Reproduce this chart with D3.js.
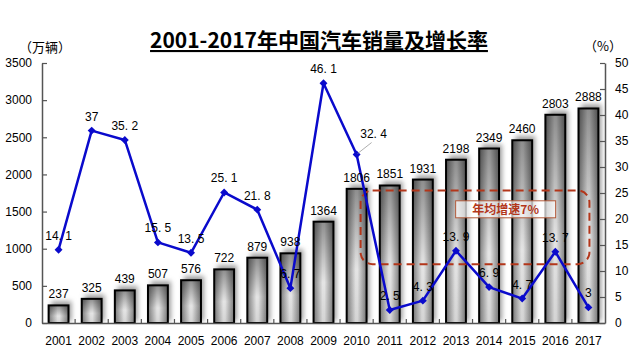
<!DOCTYPE html>
<html>
<head>
<meta charset="utf-8">
<script src="https://cdn.jsdelivr.net/npm/d3@7/dist/d3.min.js"></script>
<style>
  html, body { margin: 0; padding: 0; background: #fff; }
  svg { display: block; }
  text { font-family: "Liberation Sans", Arial, "Noto Sans CJK SC", sans-serif; }
  .cjk { font-family: "Noto Sans CJK SC", "Liberation Sans", sans-serif; }
</style>
</head>
<body>
<svg id="chart" width="640" height="348"></svg>
<script>
// Annual vehicle sales (10k units) and year-on-year growth (%)
const years = ["2001","2002","2003","2004","2005","2006","2007","2008","2009",
               "2010","2011","2012","2013","2014","2015","2016","2017"];
const sales = [237, 325, 439, 507, 576, 722, 879, 938, 1364,
               1806, 1851, 1931, 2198, 2349, 2460, 2803, 2888];
const growth = [14.1, 37, 35.2, 15.5, 13.5, 25.1, 21.8, 6.7, 46.1,
                32.4, 2.5, 4.3, 13.9, 6.9, 4.7, 13.7, 3];
const salesTicks = [0, 500, 1000, 1500, 2000, 2500, 3000, 3500];
const growthTicks = [0, 5, 10, 15, 20, 25, 30, 35, 40, 45, 50];
const titleText = "2001-2017年中国汽车销量及增长率";
const leftUnit = "（万辆）";
const rightUnit = "（%）";
const noteText = "年均增速7%";

const svg = d3.select("#chart");
const plot = { left: 42, right: 605, top: 63, bottom: 323 };

const x = d3.scaleBand().domain(years).range([plot.left, plot.right]).paddingInner(0.4).paddingOuter(0.2);
const yL = d3.scaleLinear().domain([0, 3500]).range([plot.bottom, plot.top]);
const yR = d3.scaleLinear().domain([0, 50]).range([plot.bottom, plot.top]);
const step = x.step();
const cx = d => x(d) + x.bandwidth() / 2;

// ---- definitions: bar shading and soft shadow
const defs = svg.append("defs");
const gh = defs.append("linearGradient").attr("id", "barH").attr("x1", 0).attr("x2", 1).attr("y1", 0).attr("y2", 0);
gh.append("stop").attr("offset", "0%").attr("stop-color", "#808080");
gh.append("stop").attr("offset", "45%").attr("stop-color", "#ebebeb");
gh.append("stop").attr("offset", "55%").attr("stop-color", "#ebebeb");
gh.append("stop").attr("offset", "100%").attr("stop-color", "#808080");
const gv = defs.append("linearGradient").attr("id", "barV").attr("x1", 0).attr("x2", 0).attr("y1", 0).attr("y2", 1);
gv.append("stop").attr("offset", "0%").attr("stop-color", "#000").attr("stop-opacity", 0.4);
gv.append("stop").attr("offset", "60%").attr("stop-color", "#000").attr("stop-opacity", 0.03);
gv.append("stop").attr("offset", "100%").attr("stop-color", "#000").attr("stop-opacity", 0.1);
const blur = defs.append("filter").attr("id", "soft").attr("x", "-50%").attr("y", "-50%").attr("width", "200%").attr("height", "200%");
blur.append("feGaussianBlur").attr("stdDeviation", 2.5);

// ---- bars
const bars = svg.append("g");
bars.selectAll("rect.shadow").data(years).join("rect")
  .attr("class", "shadow")
  .attr("x", d => x(d) + 3)
  .attr("y", (d, i) => yL(sales[i]) - 4)
  .attr("width", x.bandwidth())
  .attr("height", (d, i) => plot.bottom - yL(sales[i]) + 2)
  .attr("fill", "#9a9a9a")
  .attr("filter", "url(#soft)");
bars.selectAll("rect.base").data(years).join("rect")
  .attr("class", "base")
  .attr("x", d => x(d))
  .attr("y", (d, i) => yL(sales[i]))
  .attr("width", x.bandwidth())
  .attr("height", (d, i) => plot.bottom - yL(sales[i]))
  .attr("fill", "url(#barH)");
bars.selectAll("rect.shade").data(years).join("rect")
  .attr("class", "shade")
  .attr("x", d => x(d))
  .attr("y", (d, i) => yL(sales[i]))
  .attr("width", x.bandwidth())
  .attr("height", (d, i) => plot.bottom - yL(sales[i]))
  .attr("fill", "url(#barV)")
  .attr("stroke", "#000")
  .attr("stroke-width", 2);

// ---- axes
const axisColor = "#555";
const gL = svg.append("g").attr("transform", `translate(${plot.left},0)`)
  .call(d3.axisLeft(yL).tickValues(salesTicks).tickFormat(d3.format("d"))
    .tickSizeInner(-5).tickSizeOuter(0).tickPadding(10));
const gR = svg.append("g").attr("transform", `translate(${plot.right},0)`)
  .call(d3.axisRight(yR).tickValues(growthTicks).tickFormat(d3.format("d"))
    .tickSizeInner(-5).tickSizeOuter(0).tickPadding(10));
const gB = svg.append("g").attr("transform", `translate(0,${plot.bottom})`)
  .call(d3.axisBottom(x).tickSize(0).tickPadding(13));
[gL, gR, gB].forEach(g => {
  g.select(".domain").attr("stroke", axisColor).attr("stroke-width", 1.5);
  g.selectAll(".tick line").attr("stroke", axisColor).attr("stroke-width", 1.2);
  g.selectAll("text").attr("font-size", 12).attr("fill", "#000")
    .style("font-family", "'Liberation Sans', Arial, sans-serif");
});
// category boundary ticks along the bottom axis
gB.selectAll("line.sep").data(d3.range(1, years.length)).join("line")
  .attr("class", "sep")
  .attr("x1", i => plot.left + i * step).attr("x2", i => plot.left + i * step)
  .attr("y1", 0).attr("y2", -4)
  .attr("stroke", axisColor).attr("stroke-width", 1.2);

// ---- average-growth annotation box
const boxLeft = cx("2010") + 4;
const boxRight = cx("2017") + 1;
svg.append("rect")
  .attr("x", boxLeft).attr("y", yR(25.5))
  .attr("width", boxRight - boxLeft).attr("height", yR(11.3) - yR(25.5))
  .attr("rx", 12).attr("ry", 12)
  .attr("fill", "none").attr("stroke", "#b3361a").attr("stroke-width", 2)
  .attr("stroke-dasharray", "8,5");
const noteX = (cx("2013") + cx("2016")) / 2;
svg.append("rect")
  .attr("x", noteX - 50).attr("y", yR(23.5))
  .attr("width", 100).attr("height", 17)
  .attr("fill", "#ffffff").attr("fill-opacity", 0.7)
  .attr("stroke", "#b35a3a").attr("stroke-width", 1);
svg.append("text").attr("class", "cjk")
  .attr("x", noteX).attr("y", yR(23.5) + 13)
  .attr("text-anchor", "middle").attr("font-size", 12).attr("font-weight", "bold")
  .attr("fill", "#b3361a").text(noteText);

// ---- growth line
const line = d3.line().x((d, i) => cx(years[i])).y(d => yR(d));
svg.append("path").datum(growth)
  .attr("d", line).attr("fill", "none")
  .attr("stroke", "#0a0acc").attr("stroke-width", 2.5).attr("stroke-linejoin", "round");
svg.selectAll("path.mk").data(growth).join("path")
  .attr("class", "mk")
  .attr("d", d3.symbol(d3.symbolDiamond2, 40))
  .attr("transform", (d, i) => `translate(${cx(years[i])},${yR(d)})`)
  .attr("fill", "#0a0acc");

// ---- value labels
svg.selectAll("text.sv").data(sales).join("text")
  .attr("class", "sv")
  .attr("x", (d, i) => cx(years[i]))
  .attr("y", d => yL(d) - 7)
  .attr("text-anchor", "middle").attr("font-size", 12).attr("fill", "#000")
  .text(d => d);

const fmt = d => String(d).replace(".", ". ");
const leaderYear = "2010";
svg.selectAll("text.gv").data(growth).join("text")
  .attr("class", "gv")
  .attr("x", (d, i) => cx(years[i]) + (years[i] === leaderYear ? 17 : 0))
  .attr("y", (d, i) => yR(d) - (years[i] === leaderYear ? 17 : 10))
  .attr("text-anchor", "middle").attr("font-size", 12).attr("fill", "#000")
  .text(fmt);
{
  const i = years.indexOf(leaderYear);
  svg.append("line")
    .attr("x1", cx(leaderYear) + 1).attr("y1", yR(growth[i]) - 1)
    .attr("x2", cx(leaderYear) + 15).attr("y2", yR(growth[i]) - 12)
    .attr("stroke", "#999").attr("stroke-width", 0.8);
}

// ---- title and unit labels
svg.append("text").attr("class", "cjk")
  .attr("x", 319).attr("y", 48)
  .attr("text-anchor", "middle").attr("font-size", 21).attr("font-weight", "bold")
  .style("text-decoration", "underline")
  .text(titleText);
svg.append("text").attr("class", "cjk")
  .attr("x", 45).attr("y", 52).attr("text-anchor", "middle")
  .attr("font-size", 13).text(leftUnit);
svg.append("text").attr("class", "cjk")
  .attr("x", 603).attr("y", 51).attr("text-anchor", "middle")
  .attr("font-size", 13).text(rightUnit);
</script>
</body>
</html>
